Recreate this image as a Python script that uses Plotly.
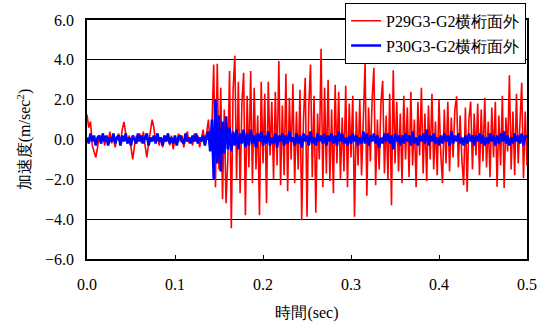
import plotly.graph_objects as go

DT = 0.002  # sampling interval (sec)

red_p29 = [
    1.25, 0.6, 0.9, -0.3, -0.6, -0.9, -0.4, 0.2, -0.2, 0.3,
    -0.3, 0.1, -0.1, 0.4, -0.2, 0.2, -0.4, 0.1, 0.3, -0.3,
    0.5, 0.88, 0.3, -0.2, 0.2, -0.5, -1.0, -0.3, 0.2, -0.1,
    0.3, -0.2, 0.4, -0.3, -0.9, -0.2, 0.5, 1.0, 0.6, -0.1,
    0.3, -0.3, 0.1, -0.4, 0.2, -0.1, 0.3, -0.3, 0.2, -0.5,
    0.1, -0.2, 0.3, -0.1, 0.2, -0.4, 0.1, 0.4, -0.2, 0.1,
    -0.3, 0.3, -0.1, 0.2, -0.4, 0.1, 0.5, -0.3, 0.3, 1.0,
    -0.5, 0.8, 3.76, -2.4, 3.8, -1.5, 2.6, -3.0, 1.5, -3.2,
    -1.0, 3.44, -4.46, 2.5, 4.2, -2.0, 2.9, -2.7, 1.8, 3.35,
    -3.8, 2.2, -1.4, 3.44, -2.2, 2.6, -1.5, 1.2, -3.8, 2.9,
    -1.2, 2.3, -3.2, 2.9, -0.8, 1.9, -2.0, 2.4, -1.3, 3.94,
    -2.3, 1.7, -1.8, 3.3, -2.6, 2.1, -1.0, 2.8, -2.2, 1.4,
    -1.5, 2.5, -4.05, 1.0, 3.1, -3.88, 1.6, 3.76, -1.9, 2.2,
    -3.68, 1.3, -1.0, 4.56, -2.4, 2.6, -1.7, 3.0, -2.1, 1.5,
    -2.7, 2.75, -1.2, 2.4, -2.0, 1.1, -1.6, 2.7, -2.4, 1.8,
    -0.9, 2.2, -3.88, 1.4, -1.3, 2.0, -1.8, 1.2, 3.82, -2.82,
    1.6, -1.1, 2.0, 3.6, -2.3, 1.0, -1.5, 1.8, 2.95, -1.7,
    1.2, -2.0, 2.3, -3.3, 3.48, -1.2, 1.9, -1.6, 1.3, -2.2,
    2.2, -1.0, 1.6, -1.9, 2.4, -1.3, 1.0, -2.4, 1.9, -0.8,
    2.6, -1.7, 1.3, -2.1, 1.7, -1.0, 2.3, -1.5, 0.9, -1.8,
    2.0, -0.7, -2.2, 1.5, -1.2, 1.9, -1.6, 1.1, -0.9, 1.5,
    2.17, -1.4, 1.2, -1.0, -2.3, 1.6, -2.62, 1.0, 1.9, -1.5,
    1.3, -0.8, 1.8, -1.8, 1.5, -1.1, 2.1, -1.4, 0.9, -1.9,
    1.6, -0.9, 1.9, -2.37, 1.2, -1.3, 2.2, -2.44, 1.1, -0.6,
    3.22, -1.5, 1.4, -1.8, 2.3, -1.2, 1.0, 2.85, -1.95, 1.4,
    -1.3,
]

blue_p30 = [
    0.1, -0.2, 0.3, -0.1, 0.2, -0.3, 0.1, 0.2, -0.2, 0.3,
    -0.1, 0.2, -0.3, 0.1, -0.1, 0.3, -0.2, 0.1, 0.2, -0.3,
    0.2, -0.1, 0.3, -0.2, 0.1, -0.3, 0.2, 0.0, -0.2, 0.3,
    -0.1, 0.2, -0.2, 0.1, 0.3, -0.3, 0.1, -0.1, 0.2, -0.2,
    0.3, -0.1, 0.1, -0.3, 0.2, -0.1, 0.3, -0.2, 0.1, -0.2,
    0.2, -0.3, 0.1, 0.2, -0.1, -0.2, 0.3, -0.1, 0.1, -0.2,
    0.2, -0.1, 0.3, -0.2, 0.1, -0.1, 0.2, -0.3, 0.2, 0.4,
    -0.6, 1.0, -2.0, 2.0, -1.2, 1.2, -1.6, 0.9, -0.7, 1.17,
    -0.5, 0.6, -0.6, 0.4, -0.3, 0.5, -0.5, 0.3, -0.2, 0.5,
    -0.4, 0.3, -0.3, 0.5, -0.2, 0.2, -0.4, 0.3, -0.1, 0.4,
    -0.3, 0.2, -0.2, 0.4, -0.3, 0.1, -0.2, 0.3, -0.4, 0.2,
    -0.1, 0.3, -0.3, 0.2, -0.2, 0.4, -0.1, 0.1, -0.3, 0.3,
    -0.2, 0.2, -0.4, 0.3, -0.1, 0.2, -0.3, 0.4, -0.2, 0.1,
    -0.3, 0.3, -0.1, 0.2, -0.2, 0.3, -0.3, 0.2, -0.1, 0.3,
    -0.2, 0.2, -0.3, 0.4, -0.1, 0.3, -0.2, 0.1, -0.3, 0.2,
    -0.2, 0.3, -0.1, 0.2, -0.3, 0.1, -0.2, 0.4, -0.2, 0.3,
    -0.3, 0.2, -0.1, 0.3, -0.2, 0.2, -0.4, 0.1, -0.2, 0.3,
    -0.1, 0.3, -0.2, 0.2, -0.5, 0.3, -0.1, 0.2, -0.3, 0.2,
    -0.2, 0.3, -0.1, 0.2, -0.3, 0.4, -0.2, 0.1, -0.3, 0.2,
    -0.1, 0.3, -0.2, 0.5, -0.3, 0.2, -0.1, 0.3, -0.2, 0.1,
    -0.3, 0.2, -0.2, 0.3, -0.1, 0.2, -0.3, 0.4, -0.2, 0.2,
    -0.1, 0.3, -0.2, 0.1, -0.3, 0.2, -0.2, 0.3, -0.1, 0.2,
    -0.3, 0.2, -0.1, 0.3, -0.2, 0.2, -0.3, 0.1, -0.2, 0.3,
    -0.1, 0.2, -0.3, 0.2, -0.2, 0.3, -0.1, 0.4, -0.2, 0.2,
    -0.3, 0.1, -0.2, 0.3, -0.1, 0.2, -0.2, 0.3, -0.3, 0.2,
    0.1,
]

time_red = [i * DT for i in range(len(red_p29))]
time_blue = [i * DT for i in range(len(blue_p30))]

x_ticks = [0.0, 0.1, 0.2, 0.3, 0.4, 0.5]
y_ticks = [-6.0, -4.0, -2.0, 0.0, 2.0, 4.0, 6.0]

SERIF = "Liberation Serif"

fig = go.Figure()
fig.add_trace(go.Scatter(
    x=time_red, y=red_p29, mode="lines",
    name="P29G3-G2横桁面外", legendgroup="a",
    line=dict(color="#ff0000", width=1.6),
))
fig.add_trace(go.Scatter(
    x=time_blue, y=blue_p30, mode="lines",
    name="P30G3-G2横桁面外", legendgroup="b",
    line=dict(color="#0000ff", width=2.6),
))

fig.update_layout(
    width=544, height=325,
    margin=dict(l=87, r=17, t=20, b=66, autoexpand=False),
    paper_bgcolor="white", plot_bgcolor="white",
    font=dict(family=SERIF, size=16, color="black"),
    showlegend=True,
    legend=dict(
        x=0.998, y=1.072, xanchor="right", yanchor="top",
        bgcolor="white", bordercolor="black", borderwidth=1,
        font=dict(family=SERIF, size=16, color="black"),
        tracegroupgap=1, traceorder="grouped",
    ),
    xaxis=dict(
        range=[0, 0.5], tickvals=x_ticks, tickformat=".1f",
        ticks="inside", ticklen=4, tickcolor="black",
        ticklabelstandoff=10,
        showgrid=False, zeroline=False, automargin=False,
        showline=True, linecolor="black", linewidth=1.5, mirror=True,
        title=dict(text="時間(sec)", standoff=15,
                   font=dict(family=SERIF, size=16)),
    ),
    yaxis=dict(
        range=[-6, 6], tickvals=y_ticks, tickformat=".1f",
        ticks="", showgrid=True, gridcolor="black", gridwidth=1,
        ticklabelstandoff=8,
        zeroline=True, zerolinecolor="black", zerolinewidth=1,
        automargin=False,
        showline=True, linecolor="black", linewidth=1.5, mirror=True,
        title=dict(text="加速度(m/sec<sup>2</sup>)", standoff=10,
                   font=dict(family=SERIF, size=16)),
    ),
)

fig.write_html("out.html", config={"displayModeBar": False},
               post_script="document.body.style.margin='0';")
